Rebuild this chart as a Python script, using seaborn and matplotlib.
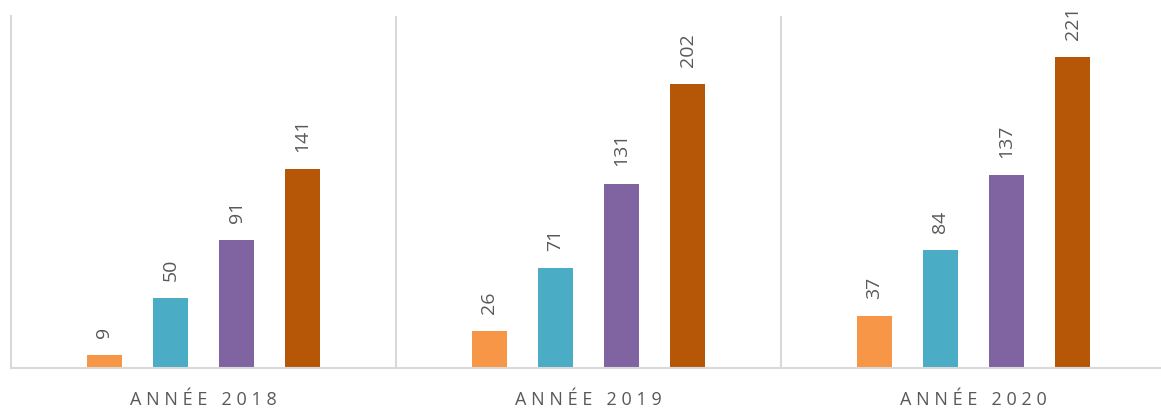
import matplotlib
matplotlib.use("Agg")
import matplotlib.pyplot as plt
import seaborn as sns
import pandas as pd

years = ["Année 2018", "Année 2019", "Année 2020"]
series = ["Série 1", "Série 2", "Série 3", "Série 4"]
serie1 = [9, 26, 37]
serie2 = [50, 71, 84]
serie3 = [91, 131, 137]
serie4 = [141, 202, 221]
colors = ["#F79646", "#4BACC6", "#8064A2", "#B65708"]

rows = []
for s, vals in zip(series, [serie1, serie2, serie3, serie4]):
    for y, v in zip(years, vals):
        rows.append({"annee": y, "serie": s, "valeur": v})
df = pd.DataFrame(rows)

sns.set_theme(style="white")
plt.rcParams["font.family"] = ["Open Sans", "DejaVu Sans"]

fig = plt.figure(figsize=(11.61, 4.10), dpi=100)
ax = fig.add_axes([11 / 1161, 41 / 410, 1150 / 1161, 352 / 410])

sns.barplot(data=df, x="annee", y="valeur", hue="serie", palette=colors,
            width=0.686, gap=0.47, dodge=True, ax=ax, legend=False,
            saturation=1, edgecolor="none")

ax.set_xlim(-0.5, -0.5 + 1150 / 385)
ax.set_ylim(0, 250)

grey = "#D9D9D9"
for sp in ["top", "right"]:
    ax.spines[sp].set_visible(False)
for sp in ["left", "bottom"]:
    ax.spines[sp].set_color(grey)
    ax.spines[sp].set_linewidth(1.5)
for xv in [0.5, 1.5]:
    ax.axvline(xv, color=grey, lw=1.5, zorder=0)

for c in ax.containers:
    ax.bar_label(c, rotation=90, padding=13, fontsize=14, color="#595959")

ax.set_yticks([])
ax.set_ylabel("")
ax.set_xlabel("")
ax.set_xticks(range(len(years)))
ax.set_xticklabels(["\u2009\u200a".join(list(y.upper())) for y in years],
                   fontsize=13, color="#595959")
ax.tick_params(axis="x", length=0, pad=16)

fig.savefig("out.png", dpi=100)
